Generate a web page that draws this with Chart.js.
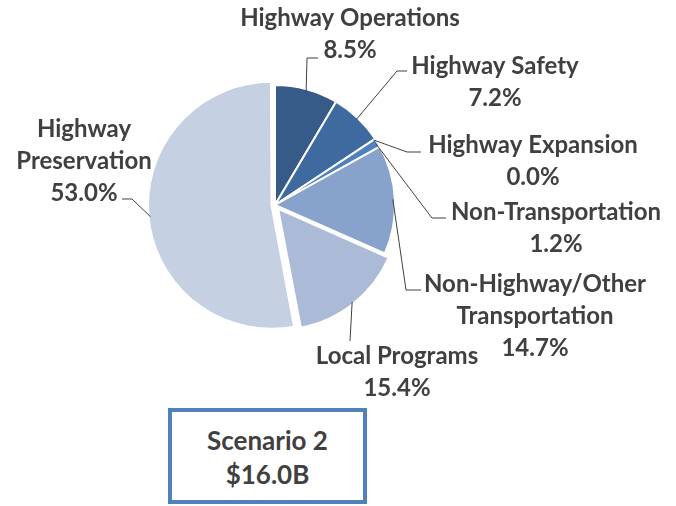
<!DOCTYPE html>
<html>
<head>
<meta charset="utf-8">
<script src="https://cdn.jsdelivr.net/npm/chart.js@4/dist/chart.umd.min.js"></script>
<style>
  html, body { margin: 0; padding: 0; background: #fff; overflow: hidden; }
  #wrap { position: relative; width: 676px; height: 506px; }
  #chart { display: block; }
  #box {
    position: absolute; left: 168px; top: 408px; width: 199px; height: 96px;
    box-sizing: border-box; border: 4px solid #4F81BD; background: #fff;
    font: bold 26px Lato, sans-serif; color: #404040;
    text-align: center; line-height: 34px; padding-top: 11px;
  }
</style>
</head>
<body>
<div id="wrap">
  <canvas id="chart" width="676" height="506"></canvas>
  <div id="box">Scenario 2<br>$16.0B</div>
</div>
<script>
// data
const categories = ['Highway Operations', 'Highway Safety', 'Highway Expansion', 'Non-Transportation',
  'Non-Highway/Other Transportation', 'Local Programs', 'Highway Preservation']
const shares = [8.5, 7.2, 0.0, 1.2, 14.7, 15.4, 53.0]

// styling / layout
const sliceColors = ['#365B89', '#3F6A9F', '#4A78B0', '#4F81BD', '#87A2CB', '#AABAD7', '#C5D0E3']
const sliceOffsets = [0, 0, 0, 0, 0, 20, 14]
const labelLines = [
  ['Highway Operations'],
  ['Highway Safety'],
  ['Highway Expansion'],
  ['Non-Transportation'],
  ['Non-Highway/Other', 'Transportation'],
  ['Local Programs'],
  ['Highway', 'Preservation'],
]
// text centre x, first baseline y
const labelPos = [[350, 26], [495, 74], [533, 153], [556, 220], [535, 292], [397, 364], [84, 137]]
// leader line: elbow, end
const leaderPts = [
  [[307, 58], [318, 58]],
  [[397, 71], [407, 71]],
  [[407, 152], [421, 152]],
  [[432, 218], [446, 218]],
  [[406, 290], [421, 290]],
  [[350, 341], [350, 341]],
  [[132, 199], [122, 199]],
]
const lineGap = 32

const leaderPlugin = {
  id: 'leaders',
  afterDatasetsDraw(chart) {
    const ctx = chart.ctx
    const meta = chart.getDatasetMeta(0)
    ctx.save()
    meta.data.forEach((arc, i) => {
      const p = arc.getProps(['x', 'y', 'startAngle', 'endAngle', 'outerRadius'])
      const circ = p.endAngle - p.startAngle
      const mid = (p.startAngle + p.endAngle) / 2
      const fix = 1 - Math.sin(Math.min(Math.PI, circ))
      const shift = (sliceOffsets[i] / 4) * (1 + fix)
      const r = p.outerRadius - 2 + shift
      const sx = p.x + Math.cos(mid) * r
      const sy = p.y + Math.sin(mid) * r

      // leader
      ctx.strokeStyle = '#404040'
      ctx.lineWidth = 1
      ctx.beginPath()
      ctx.moveTo(sx, sy)
      ctx.lineTo(leaderPts[i][0][0], leaderPts[i][0][1])
      ctx.lineTo(leaderPts[i][1][0], leaderPts[i][1][1])
      ctx.stroke()

      // text
      ctx.fillStyle = '#404040'
      ctx.font = 'bold 24px Lato, sans-serif'
      ctx.textAlign = 'center'
      ctx.textBaseline = 'alphabetic'
      const lines = labelLines[i].concat([shares[i].toFixed(1) + '%'])
      lines.forEach((t, k) => {
        ctx.fillText(t, labelPos[i][0], labelPos[i][1] + k * lineGap)
      })
    })
    ctx.restore()
  },
}

const ctx = document.getElementById('chart').getContext('2d')
new Chart(ctx, {
  type: 'pie',
  data: {
    labels: categories,
    datasets: [
      {
        data: shares,
        backgroundColor: sliceColors,
        borderColor: '#ffffff',
        borderWidth: 2,
        offset: sliceOffsets,
      },
    ],
  },
  options: {
    responsive: false,
    animation: false,
    radius: 120,
    layout: { padding: { left: 0, right: 126, top: 0, bottom: 96 } },
    plugins: {
      legend: { display: false },
      tooltip: { enabled: false },
    },
  },
  plugins: [leaderPlugin],
})
</script>
</body>
</html>
